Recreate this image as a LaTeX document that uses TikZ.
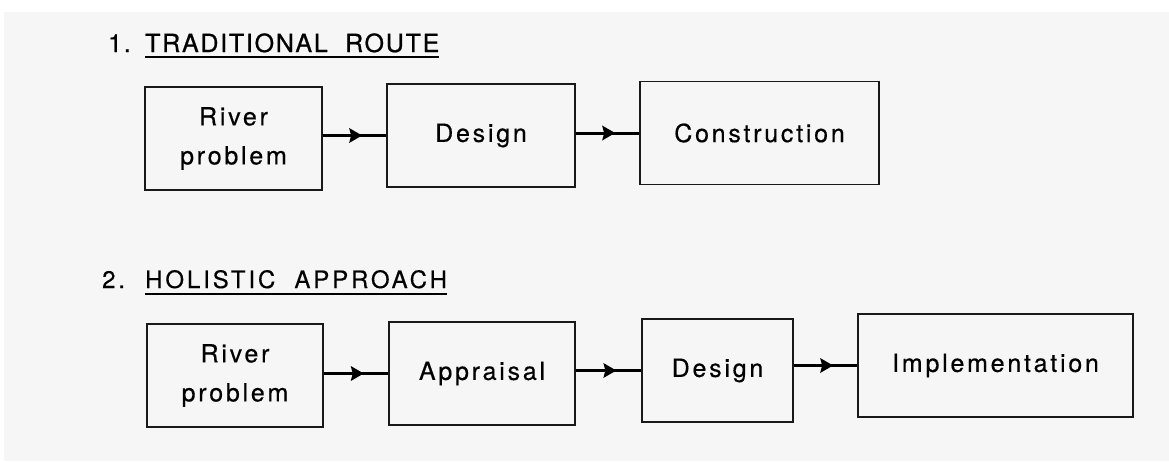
\documentclass[tikz,border=0pt]{standalone}
\usepackage{fontspec}
\usepackage{tikz}
\usetikzlibrary{arrows.meta,decorations.markings,positioning}
\newfontfamily\boxfamily{TeX Gyre Heros}[LetterSpace=11,FakeBold=0.4]
\newfontfamily\headfamily{TeX Gyre Heros}[LetterSpace=7,FakeBold=0.8]
\newfontfamily\subheadfamily{TeX Gyre Heros}[LetterSpace=12,FakeBold=0.4]
\definecolor{paper}{RGB}{246,246,246}
\definecolor{inkgray}{RGB}{25,25,25}

\begin{document}
\begin{tikzpicture}[x=1pt, y=-1pt,
        stage/.style={rectangle, draw=inkgray, line width=1.6pt, minimum height=103pt, inner sep=0pt, align=center, font=\boxfamily\fontsize{25}{39}\selectfont},
        heading/.style={anchor=base west, inner sep=0pt, font=\headfamily\fontsize{25}{30}\selectfont},
        subheading/.style={anchor=base west, inner sep=0pt, font=\subheadfamily\fontsize{24}{30}\selectfont},
        flow/.style={line width=3pt, black, postaction={decorate},
            decoration={markings, mark=at position 0.62 with {\fill (-13pt,-7.5pt) -- (0pt,0pt) -- (-13pt,7.5pt) -- (-11pt,0pt) -- cycle;}}},
        uline/.style={line width=2pt, black}]

        % sheet
        \useasboundingbox (0,0) rectangle (1169,461);
        \fill[white] (0,0) rectangle (1169,461);
        \fill[paper] (4,12) rectangle (1169,461);

        % 1. traditional route
        \node[heading] (num1) at (108,52) {1.};
        \node[heading] (title1) at (145,52) {TRADITIONAL~~ROUTE};
        \draw[uline] ([yshift=-5pt]title1.base west) -- ([yshift=-5pt]title1.base east);

        \node[stage, minimum width=177pt] (river1) at (233.5,138.5) {River\\problem};
        \node[stage, minimum width=188pt] (design1) at (481,135.5) {Design};
        \node[stage, minimum width=239pt] (build1) at (759.5,133) {Construction};

        \draw[flow] (river1.east |- design1.west) -- (design1.west);
        \draw[flow] (design1.east |- build1.west) -- (build1.west);

        % 2. holistic approach
        \node[subheading] (num2) at (102,288) {2.};
        \node[subheading] (title2) at (145,288) {HOLISTIC~~APPROACH};
        \draw[uline] ([yshift=-6pt]title2.base west) -- ([yshift=-6pt]title2.base east);

        \node[stage, minimum width=176pt] (river2) at (235,375.5) {River\\problem};
        \node[stage, minimum width=186pt] (appraise2) at (482,373.5) {Appraisal};
        \node[stage, minimum width=151pt] (design2) at (717.5,370.5) {Design};
        \node[stage, minimum width=275pt] (implement2) at (995.5,365.5) {Implementation};

        \draw[flow] (river2.east |- appraise2.west) -- (appraise2.west);
        \draw[flow] (appraise2.east |- design2.west) -- (design2.west);
        \draw[flow] (design2.east |- implement2.west) -- (implement2.west);

    \end{tikzpicture}
\end{document}
